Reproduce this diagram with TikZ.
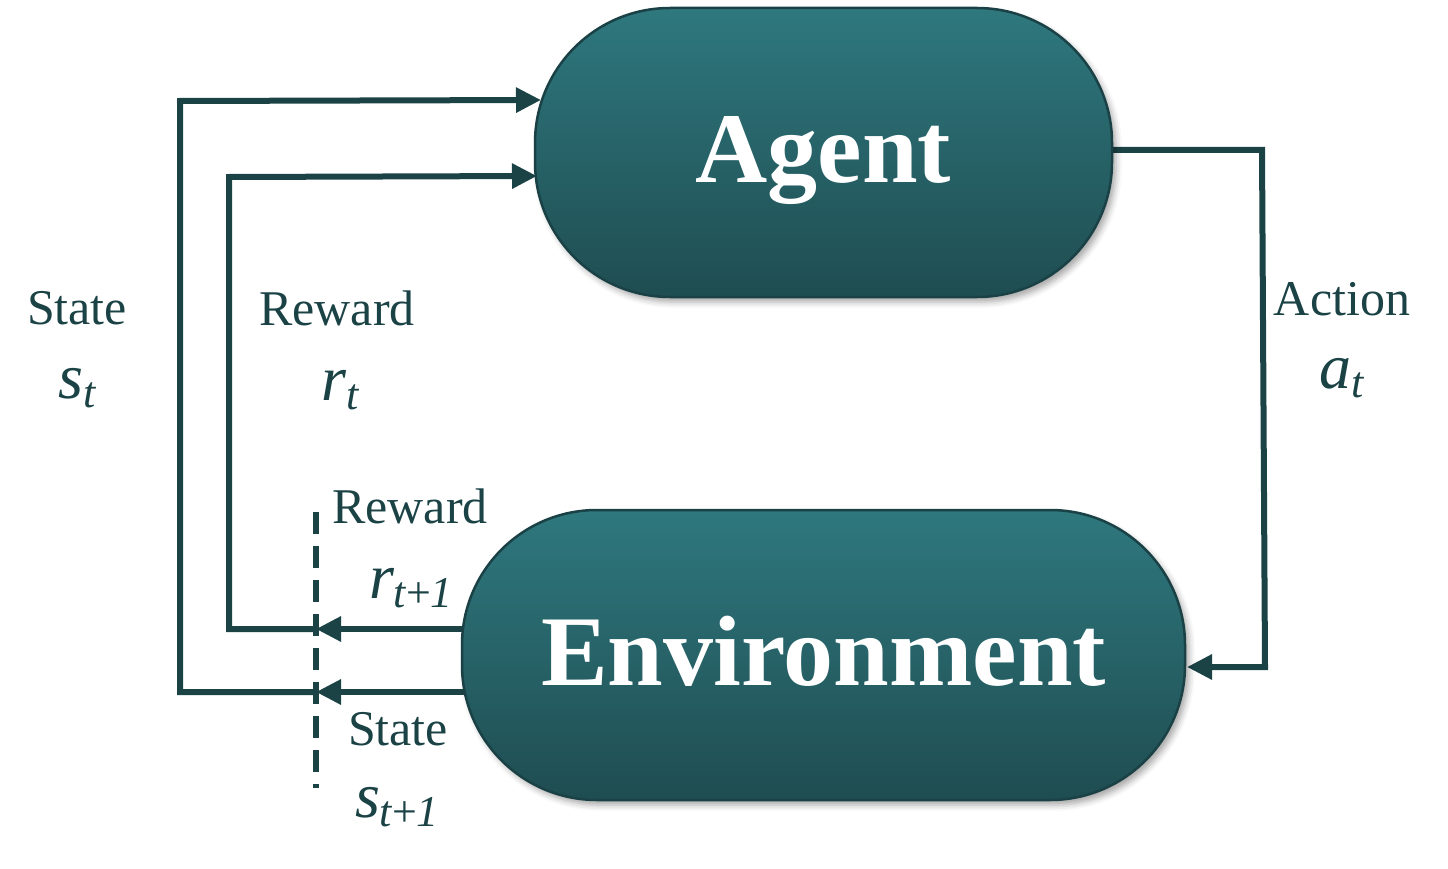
\documentclass[tikz,border=0pt]{standalone}
\usepackage{fontspec}
\setmainfont{Liberation Serif}
\usetikzlibrary{arrows.meta,shadows.blur}
\definecolor{tealtop}{HTML}{2E787E}
\definecolor{tealbot}{HTML}{1F4D51}
\definecolor{edgec}{HTML}{1A4145}
\definecolor{ink}{HTML}{1B4346}
\pgfdeclarelayer{bg}
\pgfsetlayers{bg,main}
\newcommand\symsub[2]{#1\raisebox{-9pt}{\fontsize{44}{44}\selectfont #2}}
\begin{document}
\begin{tikzpicture}[x=1pt,y=-1pt,
  blob/.style={draw=edgec, line width=2.5pt, top color=tealtop, bottom color=tealbot,
    rounded corners=135pt, text=white, font=\fontsize{100}{100}\selectfont\bfseries,
    text height=60pt, text depth=0pt, inner sep=0pt,
    blur shadow={shadow xshift=4pt, shadow yshift=-5pt, shadow blur radius=6pt, shadow opacity=35}},
  wire/.style={draw=ink, line width=6pt},
  tipped/.style={-{Triangle[length=25pt,width=24pt]}},
  lbl/.style={text=ink, font=\fontsize{50}{50}\selectfont, inner sep=0pt, anchor=base},
  sym/.style={text=ink, font=\fontsize{64}{64}\selectfont\itshape, inner sep=0pt, anchor=base},
  dashline/.style={draw=ink, line width=6pt, dash pattern=on 22pt off 12pt}]
\useasboundingbox (0,0) rectangle (1448,869);

\node[blob, minimum width=577pt, minimum height=289pt] (agent) at (823.5,152.5) {Agent};
\node[blob, minimum width=723pt, minimum height=290pt] (env) at (823.5,655) {Environment};

% connector points
\coordinate (sE) at (475,692);
\coordinate (sD) at (316,692);
\coordinate (sB) at (180,692);
\coordinate (sT) at (180,101);
\coordinate (aS) at (541,100);
\coordinate (rE) at (475,629);
\coordinate (rD) at (316,629);
\coordinate (rB) at (229,629);
\coordinate (rT) at (229,177);
\coordinate (aR) at (537,176);
\coordinate (aO) at (1100,150);
\coordinate (cT) at (1262,150);
\coordinate (cB) at (1265,667);
\coordinate (eA) at (1187,667);
\coordinate (dT) at (316,512);
\coordinate (dB) at (316,788);

\begin{pgfonlayer}{bg}
\draw[wire,tipped] (sE) -- (sD);
\draw[wire,tipped] (sD) -- (sB) -- (sT) -- (aS);
\draw[wire,tipped] (rE) -- (rD);
\draw[wire,tipped] (rD) -- (rB) -- (rT) -- (aR);
\draw[wire,tipped] (aO) -- (cT) -- (cB) -- (eA);
\end{pgfonlayer}
\draw[dashline] (dT) -- (dB);

\node[lbl] (l1) at (77,324) {State};
\node[sym] (l2) at (77,398) {\symsub{s}{t}};
\node[lbl] (l3) at (337,325) {Reward};
\node[sym] (l4) at (340,400) {\symsub{r}{t}};
\node[lbl] (l5) at (1342,315) {Action};
\node[sym] (l6) at (1342,388) {\symsub{a}{t}};
\node[lbl] (l7) at (410,523) {Reward};
\node[sym] (l8) at (411,598) {\symsub{r}{t{\upshape +}1}};
\node[lbl] (l9) at (398,745) {State};
\node[sym] (l10) at (397,817) {\symsub{s}{t{\upshape +}1}};
\end{tikzpicture}
\end{document}
